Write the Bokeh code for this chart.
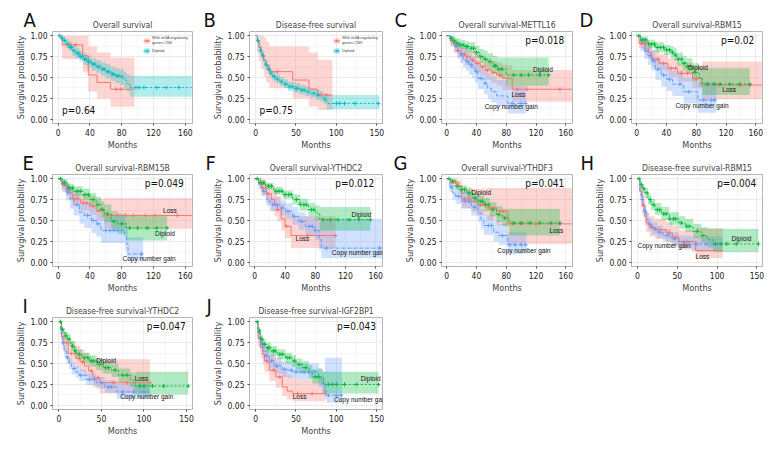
import numpy as np
from bokeh.plotting import figure
from bokeh.layouts import gridplot
from bokeh.models import Label, Legend, LegendItem, FixedTicker, Range1d, NumeralTickFormatter
from bokeh.embed import file_html
from bokeh.resources import INLINE

# ---------------- data ----------------
OS_TICKS = [0, 40, 80, 120, 160]
DFS_TICKS = [0, 50, 100, 150]
Y_TICKS = [0, 0.25, 0.5, 0.75, 1.0]

# A  Overall survival
A_cnv_t = [0, 5, 31, 38, 49, 66, 96]
A_cnv_s = [1, 0.89, 0.76, 0.53, 0.44, 0.36, 0.36]
A_cnv_lo = [1, 0.72, 0.57, 0.33, 0.25, 0.15, 0.15]
A_cnv_hi = [1, 1, 1, 0.87, 0.80, 0.74, 0.74]
A_cnv_c = [15, 22, 73, 79]
A_dip_t = [0, 3, 6, 10, 14, 18, 22, 27, 32, 36, 42, 48, 54, 60, 66, 72, 78, 83, 86, 90, 168]
A_dip_s = [1, 0.97, 0.94, 0.9, 0.86, 0.82, 0.79, 0.75, 0.72, 0.69, 0.66, 0.63, 0.6, 0.57, 0.54, 0.52, 0.51, 0.47, 0.43, 0.38, 0.38]
A_dip_lo = [1, 0.94, 0.9, 0.85, 0.81, 0.76, 0.73, 0.69, 0.65, 0.62, 0.58, 0.55, 0.52, 0.49, 0.46, 0.43, 0.41, 0.37, 0.33, 0.27, 0.27]
A_dip_hi = [1, 1, 0.99, 0.96, 0.93, 0.89, 0.86, 0.82, 0.79, 0.76, 0.73, 0.71, 0.68, 0.66, 0.63, 0.61, 0.6, 0.57, 0.54, 0.52, 0.52]
A_dip_c = [2, 5, 8, 12, 15, 17, 20, 24, 26, 28, 30, 33, 35, 38, 40, 44, 46, 50, 52, 56, 58, 62, 64, 68, 70, 74, 76, 80, 98, 102, 108, 124, 136, 152]

# B  Disease-free survival
B_cnv_t = [0, 2, 4, 7, 10, 13, 17, 46, 66, 77, 95]
B_cnv_s = [1, 0.93, 0.86, 0.79, 0.71, 0.64, 0.57, 0.47, 0.36, 0.29, 0.29]
B_cnv_lo = [1, 0.8, 0.69, 0.6, 0.51, 0.44, 0.37, 0.25, 0.15, 0.11, 0.11]
B_cnv_hi = [1, 1, 1, 1, 0.98, 0.93, 0.87, 0.87, 0.8, 0.71, 0.71]
B_cnv_c = [27, 80, 88]
B_dip_t = [0, 2, 4, 6, 8, 10, 12, 15, 18, 21, 25, 30, 35, 40, 48, 55, 62, 68, 75, 80, 84, 88, 153]
B_dip_s = [1, 0.94, 0.88, 0.82, 0.76, 0.7, 0.65, 0.6, 0.55, 0.51, 0.48, 0.45, 0.42, 0.39, 0.37, 0.35, 0.33, 0.31, 0.29, 0.27, 0.24, 0.19, 0.19]
B_dip_lo = [1, 0.9, 0.83, 0.77, 0.71, 0.65, 0.6, 0.55, 0.5, 0.46, 0.43, 0.4, 0.37, 0.34, 0.32, 0.3, 0.28, 0.26, 0.23, 0.21, 0.18, 0.12, 0.12]
B_dip_hi = [1, 0.98, 0.93, 0.87, 0.82, 0.76, 0.71, 0.66, 0.61, 0.57, 0.54, 0.51, 0.48, 0.45, 0.43, 0.41, 0.39, 0.37, 0.35, 0.34, 0.31, 0.29, 0.29]
B_dip_c = [3, 6, 9, 13, 16, 19, 23, 27, 32, 37, 42, 45, 50, 52, 57, 60, 65, 72, 77, 86, 100, 104, 110, 123, 152]

# C  Overall survival-METTL16
C_dip_t = [0, 4, 8, 12, 18, 25, 30, 38, 44, 50, 55, 62, 68, 80, 137]
C_dip_s = [1, 0.97, 0.94, 0.91, 0.89, 0.87, 0.85, 0.8, 0.75, 0.72, 0.69, 0.64, 0.6, 0.53, 0.53]
C_dip_lo = [1, 0.94, 0.9, 0.86, 0.84, 0.81, 0.79, 0.73, 0.67, 0.63, 0.6, 0.54, 0.5, 0.4, 0.4]
C_dip_hi = [1, 1, 0.99, 0.97, 0.95, 0.93, 0.92, 0.88, 0.84, 0.82, 0.79, 0.76, 0.74, 0.74, 0.74]
C_dip_c = [6, 10, 14, 18, 22, 26, 28, 33, 36, 40, 46, 52, 58, 64, 66, 70, 74, 90, 100, 110, 125, 137]
C_loss_t = [0, 5, 10, 15, 20, 25, 32, 38, 45, 52, 60, 67, 75, 88, 168]
C_loss_s = [1, 0.93, 0.87, 0.82, 0.78, 0.75, 0.71, 0.67, 0.63, 0.59, 0.56, 0.53, 0.49, 0.36, 0.36]
C_loss_lo = [1, 0.88, 0.8, 0.74, 0.69, 0.65, 0.61, 0.56, 0.52, 0.47, 0.43, 0.4, 0.35, 0.21, 0.21]
C_loss_hi = [1, 0.98, 0.94, 0.9, 0.87, 0.85, 0.82, 0.79, 0.76, 0.73, 0.7, 0.68, 0.65, 0.59, 0.59]
C_loss_c = [8, 15, 20, 24, 28, 35, 42, 48, 55, 62, 72, 95, 108, 152]
C_cng_t = [0, 5, 10, 14, 18, 22, 26, 30, 34, 38, 42, 50, 55, 60, 67, 82, 107]
C_cng_s = [1, 0.94, 0.88, 0.82, 0.77, 0.73, 0.69, 0.65, 0.61, 0.57, 0.49, 0.43, 0.37, 0.33, 0.28, 0.19, 0.19]
C_cng_lo = [1, 0.88, 0.8, 0.73, 0.67, 0.62, 0.58, 0.53, 0.49, 0.44, 0.36, 0.3, 0.24, 0.2, 0.15, 0.07, 0.07]
C_cng_hi = [1, 1, 0.96, 0.92, 0.88, 0.85, 0.82, 0.78, 0.75, 0.71, 0.65, 0.6, 0.55, 0.51, 0.47, 0.4, 0.4]
C_cng_c = [12, 20, 28, 33, 40, 46, 52, 88, 100, 106]

# D  Overall survival-RBM15
D_dip_t = [0, 5, 15, 25, 37, 46, 50, 54, 62, 67, 75, 84, 88, 152]
D_dip_s = [1, 0.95, 0.9, 0.86, 0.83, 0.8, 0.77, 0.72, 0.67, 0.63, 0.56, 0.5, 0.42, 0.42]
D_dip_lo = [1, 0.91, 0.85, 0.8, 0.77, 0.73, 0.7, 0.64, 0.58, 0.54, 0.46, 0.39, 0.29, 0.29]
D_dip_hi = [1, 0.99, 0.95, 0.92, 0.89, 0.87, 0.85, 0.8, 0.76, 0.73, 0.67, 0.62, 0.61, 0.61]
D_dip_c = [3, 8, 12, 16, 20, 24, 28, 32, 36, 40, 44, 48, 52, 56, 60, 64, 68, 72, 78, 95, 104, 112, 125, 138, 152]
D_loss_t = [0, 3, 12, 16, 20, 30, 42, 55, 75, 88, 168]
D_loss_s = [1, 0.91, 0.85, 0.8, 0.72, 0.67, 0.61, 0.55, 0.49, 0.41, 0.41]
D_loss_lo = [1, 0.85, 0.77, 0.72, 0.63, 0.58, 0.51, 0.45, 0.37, 0.24, 0.24]
D_loss_hi = [1, 0.97, 0.93, 0.89, 0.83, 0.78, 0.73, 0.68, 0.64, 0.69, 0.69]
D_loss_c = [6, 10, 22, 28, 36, 46, 52, 60, 68, 80, 95, 110, 140, 152]
D_cng_t = [0, 5, 10, 15, 20, 25, 33, 40, 48, 63, 82, 107]
D_cng_s = [1, 0.9, 0.82, 0.76, 0.7, 0.6, 0.53, 0.48, 0.42, 0.33, 0.23, 0.23]
D_cng_lo = [1, 0.82, 0.72, 0.65, 0.58, 0.47, 0.39, 0.34, 0.28, 0.19, 0.08, 0.08]
D_cng_hi = [1, 0.98, 0.93, 0.88, 0.83, 0.74, 0.68, 0.63, 0.58, 0.5, 0.45, 0.45]
D_cng_c = [12, 18, 22, 28, 36, 44, 58, 70, 90, 100, 105]

# E  Overall survival-RBM15B
E_loss_t = [0, 4, 10, 14, 18, 28, 40, 48, 58, 168]
E_loss_s = [1, 0.93, 0.88, 0.83, 0.76, 0.71, 0.67, 0.62, 0.56, 0.56]
E_loss_lo = [1, 0.87, 0.8, 0.75, 0.67, 0.62, 0.57, 0.5, 0.4, 0.4]
E_loss_hi = [1, 0.98, 0.95, 0.91, 0.86, 0.82, 0.79, 0.76, 0.77, 0.77]
E_loss_c = [7, 12, 20, 24, 32, 36, 44, 52, 64, 75, 85, 95, 110, 122, 150]
E_dip_t = [0, 5, 12, 20, 31, 40, 48, 54, 58, 67, 75, 86, 137]
E_dip_s = [1, 0.95, 0.89, 0.85, 0.81, 0.75, 0.69, 0.63, 0.58, 0.49, 0.46, 0.41, 0.41]
E_dip_lo = [1, 0.91, 0.84, 0.79, 0.74, 0.67, 0.6, 0.54, 0.48, 0.38, 0.34, 0.26, 0.26]
E_dip_hi = [1, 0.99, 0.94, 0.91, 0.88, 0.83, 0.78, 0.73, 0.69, 0.61, 0.58, 0.57, 0.57]
E_dip_c = [3, 8, 14, 18, 24, 28, 34, 38, 44, 50, 56, 62, 70, 80, 90, 100, 112, 124, 137]
E_cng_t = [0, 5, 10, 15, 20, 27, 33, 42, 48, 54, 84, 86, 88, 107]
E_cng_s = [1, 0.92, 0.84, 0.76, 0.69, 0.6, 0.56, 0.5, 0.46, 0.38, 0.3, 0.22, 0.1, 0.1]
E_cng_lo = [1, 0.84, 0.74, 0.64, 0.56, 0.46, 0.41, 0.35, 0.31, 0.23, 0.14, 0.07, 0.02, 0.02]
E_cng_hi = [1, 1, 0.94, 0.88, 0.82, 0.75, 0.71, 0.66, 0.62, 0.56, 0.48, 0.4, 0.3, 0.3]
E_cng_c = [12, 24, 37, 44, 50, 60, 65, 70, 75, 80, 105]

# F  Overall survival-YTHDC2
F_dip_t = [0, 5, 14, 25, 37, 50, 60, 71, 80, 86, 153]
F_dip_s = [1, 0.95, 0.91, 0.85, 0.81, 0.75, 0.69, 0.63, 0.59, 0.51, 0.51]
F_dip_lo = [1, 0.92, 0.87, 0.81, 0.76, 0.69, 0.62, 0.55, 0.5, 0.38, 0.38]
F_dip_hi = [1, 0.99, 0.95, 0.9, 0.86, 0.81, 0.76, 0.71, 0.68, 0.66, 0.66]
F_dip_c = [3, 8, 12, 18, 22, 28, 32, 36, 40, 45, 48, 55, 60, 65, 68, 75, 78, 90, 100, 110, 125, 138, 153]
F_loss_t = [0, 8, 15, 22, 26, 30, 35, 40, 48, 107]
F_loss_s = [1, 0.89, 0.82, 0.75, 0.69, 0.63, 0.52, 0.43, 0.32, 0.32]
F_loss_lo = [1, 0.8, 0.71, 0.62, 0.55, 0.49, 0.38, 0.29, 0.17, 0.17]
F_loss_hi = [1, 0.98, 0.94, 0.88, 0.84, 0.79, 0.7, 0.62, 0.55, 0.55]
F_loss_c = [10, 18, 30, 42, 70, 107]
F_cng_t = [0, 5, 10, 16, 20, 33, 41, 50, 58, 67, 80, 85, 88, 168]
F_cng_s = [1, 0.93, 0.85, 0.75, 0.69, 0.65, 0.61, 0.55, 0.49, 0.43, 0.38, 0.27, 0.17, 0.17]
F_cng_lo = [1, 0.88, 0.79, 0.67, 0.61, 0.56, 0.52, 0.45, 0.39, 0.32, 0.27, 0.15, 0.05, 0.05]
F_cng_hi = [1, 0.98, 0.91, 0.83, 0.78, 0.74, 0.71, 0.66, 0.6, 0.55, 0.52, 0.48, 0.52, 0.52]
F_cng_c = [12, 24, 28, 36, 44, 52, 62, 72, 76, 80, 95, 165]

# G  Overall survival-YTHDF3
G_loss_t = [0, 5, 15, 20, 33, 41, 54, 67, 82, 168]
G_loss_s = [1, 0.96, 0.91, 0.76, 0.73, 0.69, 0.65, 0.61, 0.46, 0.46]
G_loss_lo = [1, 0.9, 0.83, 0.65, 0.61, 0.56, 0.5, 0.44, 0.22, 0.22]
G_loss_hi = [1, 1, 0.98, 0.9, 0.88, 0.88, 0.89, 0.89, 0.89, 0.89]
G_loss_c = [8, 12, 24, 30, 46, 50, 58, 64, 72, 76, 88, 100, 120, 152]
G_dip_t = [0, 5, 12, 18, 27, 35, 42, 50, 58, 67, 75, 84, 152]
G_dip_s = [1, 0.97, 0.91, 0.87, 0.83, 0.77, 0.73, 0.69, 0.63, 0.57, 0.53, 0.47, 0.47]
G_dip_lo = [1, 0.94, 0.87, 0.82, 0.77, 0.71, 0.66, 0.61, 0.55, 0.48, 0.43, 0.32, 0.32]
G_dip_hi = [1, 1, 0.95, 0.92, 0.88, 0.83, 0.8, 0.77, 0.72, 0.67, 0.64, 0.64, 0.64]
G_dip_c = [3, 8, 14, 20, 24, 30, 38, 45, 48, 52, 56, 62, 70, 78, 90, 100, 112, 125, 140, 152]
G_cng_t = [0, 4, 8, 12, 20, 33, 42, 46, 50, 63, 70, 82, 107]
G_cng_s = [1, 0.9, 0.83, 0.79, 0.73, 0.66, 0.59, 0.51, 0.44, 0.36, 0.32, 0.21, 0.21]
G_cng_lo = [1, 0.84, 0.75, 0.7, 0.64, 0.56, 0.48, 0.4, 0.33, 0.25, 0.21, 0.1, 0.1]
G_cng_hi = [1, 0.97, 0.92, 0.89, 0.84, 0.77, 0.71, 0.64, 0.57, 0.5, 0.46, 0.36, 0.36]
G_cng_c = [6, 16, 25, 30, 38, 56, 60, 75, 85, 92, 100, 106]

# H  Disease-free survival-RBM15
H_dip_t = [0, 3, 6, 9, 13, 17, 22, 30, 40, 52, 60, 70, 80, 88, 95, 152]
H_dip_s = [1, 0.93, 0.88, 0.83, 0.75, 0.69, 0.63, 0.58, 0.52, 0.47, 0.43, 0.37, 0.32, 0.27, 0.22, 0.22]
H_dip_lo = [1, 0.89, 0.83, 0.77, 0.69, 0.63, 0.57, 0.51, 0.45, 0.4, 0.36, 0.29, 0.24, 0.18, 0.12, 0.12]
H_dip_hi = [1, 0.97, 0.93, 0.89, 0.82, 0.76, 0.71, 0.66, 0.6, 0.55, 0.52, 0.46, 0.42, 0.4, 0.4, 0.4]
H_dip_c = [2, 5, 8, 12, 16, 20, 25, 28, 33, 36, 40, 45, 48, 55, 62, 65, 75, 82, 98, 105, 112, 124, 152]
H_loss_t = [0, 3, 6, 9, 11, 15, 22, 36, 44, 52, 73, 107]
H_loss_s = [1, 0.85, 0.68, 0.55, 0.47, 0.42, 0.39, 0.35, 0.3, 0.25, 0.14, 0.14]
H_loss_lo = [1, 0.76, 0.57, 0.44, 0.36, 0.31, 0.28, 0.24, 0.19, 0.15, 0.05, 0.05]
H_loss_hi = [1, 0.94, 0.8, 0.68, 0.6, 0.55, 0.52, 0.48, 0.44, 0.38, 0.41, 0.41]
H_loss_c = [7, 18, 28, 40, 48, 62]
H_cng_t = [0, 3, 5, 8, 11, 14, 18, 25, 32, 42, 52, 68, 107]
H_cng_s = [1, 0.85, 0.75, 0.61, 0.51, 0.45, 0.4, 0.36, 0.32, 0.28, 0.24, 0.22, 0.22]
H_cng_lo = [1, 0.79, 0.68, 0.54, 0.44, 0.38, 0.33, 0.29, 0.25, 0.21, 0.17, 0.13, 0.13]
H_cng_hi = [1, 0.91, 0.82, 0.69, 0.59, 0.53, 0.48, 0.44, 0.4, 0.36, 0.32, 0.31, 0.31]
H_cng_c = [6, 10, 16, 22, 28, 38, 46, 58, 74, 86, 95, 104]

# I  Disease-free survival-YTHDC2
I_dip_t = [0, 3, 5, 7, 10, 14, 18, 21, 27, 36, 44, 52, 62, 70, 84, 88, 90, 152]
I_dip_s = [1, 0.91, 0.87, 0.83, 0.79, 0.71, 0.65, 0.61, 0.57, 0.53, 0.49, 0.45, 0.42, 0.36, 0.3, 0.27, 0.23, 0.23]
I_dip_lo = [1, 0.87, 0.82, 0.78, 0.73, 0.65, 0.59, 0.55, 0.5, 0.46, 0.42, 0.38, 0.34, 0.28, 0.22, 0.18, 0.13, 0.13]
I_dip_hi = [1, 0.95, 0.92, 0.88, 0.85, 0.77, 0.71, 0.67, 0.63, 0.6, 0.56, 0.52, 0.5, 0.44, 0.39, 0.38, 0.4, 0.4]
I_dip_c = [2, 4, 8, 12, 16, 19, 24, 30, 34, 38, 41, 48, 55, 58, 66, 75, 80, 95, 100, 110, 123, 152]
I_loss_t = [0, 3, 6, 11, 20, 25, 30, 35, 40, 48, 107]
I_loss_s = [1, 0.82, 0.75, 0.62, 0.56, 0.52, 0.47, 0.41, 0.33, 0.27, 0.27]
I_loss_lo = [1, 0.72, 0.64, 0.5, 0.44, 0.4, 0.35, 0.29, 0.22, 0.14, 0.14]
I_loss_hi = [1, 0.92, 0.87, 0.77, 0.71, 0.67, 0.63, 0.58, 0.55, 0.55, 0.55]
I_loss_c = [9, 15, 24, 28, 38, 46, 64, 80, 107]
I_cng_t = [0, 2, 4, 6, 9, 12, 15, 20, 24, 32, 44, 54, 68, 107]
I_cng_s = [1, 0.87, 0.75, 0.65, 0.57, 0.5, 0.44, 0.4, 0.36, 0.31, 0.27, 0.22, 0.16, 0.16]
I_cng_lo = [1, 0.81, 0.69, 0.58, 0.5, 0.43, 0.37, 0.33, 0.29, 0.24, 0.2, 0.15, 0.08, 0.08]
I_cng_hi = [1, 0.93, 0.82, 0.72, 0.64, 0.57, 0.51, 0.47, 0.43, 0.38, 0.34, 0.3, 0.26, 0.26]
I_cng_c = [5, 10, 18, 26, 36, 42, 50, 58, 62, 75, 88, 100]

# J  Disease-free survival-IGF2BP1
J_dip_t = [0, 3, 6, 9, 13, 19, 27, 37, 45, 50, 58, 66, 70, 84, 152]
J_dip_s = [1, 0.89, 0.79, 0.73, 0.69, 0.65, 0.61, 0.57, 0.53, 0.49, 0.45, 0.4, 0.34, 0.25, 0.25]
J_dip_lo = [1, 0.85, 0.74, 0.68, 0.63, 0.59, 0.55, 0.5, 0.46, 0.42, 0.38, 0.32, 0.26, 0.14, 0.14]
J_dip_hi = [1, 0.93, 0.84, 0.79, 0.75, 0.71, 0.67, 0.63, 0.6, 0.56, 0.53, 0.48, 0.43, 0.4, 0.4]
J_dip_c = [2, 5, 8, 11, 15, 17, 22, 24, 30, 33, 39, 42, 48, 54, 62, 74, 78, 90, 95, 100, 110, 125, 152]
J_loss_t = [0, 3, 6, 9, 11, 17, 25, 33, 39, 46, 86]
J_loss_s = [1, 0.8, 0.69, 0.61, 0.53, 0.42, 0.34, 0.22, 0.17, 0.14, 0.14]
J_loss_lo = [1, 0.7, 0.57, 0.48, 0.4, 0.29, 0.21, 0.11, 0.07, 0.05, 0.05]
J_loss_hi = [1, 0.91, 0.82, 0.76, 0.69, 0.6, 0.52, 0.42, 0.36, 0.31, 0.31]
J_loss_c = [14, 22, 30, 52, 70, 86]
J_cng_t = [0, 3, 5, 7, 9, 12, 17, 23, 33, 40, 46, 78, 82, 86, 88, 107]
J_cng_s = [1, 0.87, 0.79, 0.73, 0.65, 0.59, 0.53, 0.47, 0.43, 0.42, 0.4, 0.32, 0.24, 0.17, 0.12, 0.12]
J_cng_lo = [1, 0.8, 0.71, 0.64, 0.56, 0.5, 0.44, 0.38, 0.34, 0.33, 0.31, 0.22, 0.14, 0.07, 0.03, 0.03]
J_cng_hi = [1, 0.94, 0.87, 0.82, 0.75, 0.69, 0.63, 0.57, 0.53, 0.52, 0.5, 0.45, 0.4, 0.57, 0.57, 0.57]
J_cng_c = [8, 14, 20, 26, 36, 44, 50, 56, 60, 66, 72, 90, 100, 106]

# ---------------- styling ----------------
RED, GREEN, BLUE, TEAL = "#F8766D", "#00BA38", "#619CFF", "#00BFC4"
NARROW = "'DejaVu Sans Condensed', Roboto, sans-serif"
SANS = "Liberation Sans"


def make_fig(letter, title, dfs, col, row, letter_x):
    left = 52 if col == 0 else 44
    top = 31 if row == 0 else 22
    w = 198 if col == 0 else 190
    xr = Range1d(-7.5, 157) if dfs else Range1d(-7, 169)
    p = figure(width=w, frame_height=92, x_range=xr, y_range=Range1d(-0.05, 1.05),
               output_backend="svg", toolbar_location=None, title=title,
               min_border_left=left, min_border_right=6, min_border_top=top, min_border_bottom=25)
    p.title.text_font = NARROW
    p.title.text_font_size = "8.5px"
    p.title.text_font_style = "normal"
    p.title.align = "center"
    p.title.standoff = 4
    p.outline_line_color = "#b3b3b3"
    p.outline_line_width = 1
    ticks = DFS_TICKS if dfs else OS_TICKS
    minors = [25, 75, 125] if dfs else [20, 60, 100, 140]
    p.xaxis.ticker = FixedTicker(ticks=ticks, minor_ticks=minors)
    p.yaxis.ticker = FixedTicker(ticks=Y_TICKS, minor_ticks=[0.125, 0.375, 0.625, 0.875])
    p.yaxis.formatter = NumeralTickFormatter(format="0.00")
    for ax in (p.xaxis, p.yaxis):
        ax.axis_line_color = None
        ax.major_tick_line_color = "#444444"
        ax.major_tick_out = 2
        ax.major_tick_in = 0
        ax.minor_tick_line_color = None
        ax.major_label_text_font = NARROW
        ax.major_label_text_font_size = "8.5px"
        ax.major_label_text_color = "#1a1a1a"
        ax.major_label_standoff = 1
        ax.axis_label_text_font = NARROW
        ax.axis_label_text_font_size = "9px"
        ax.axis_label_text_font_style = "normal"
        ax.axis_label_standoff = 1
    p.xaxis.axis_label = "Months"
    p.yaxis.axis_label = "Survgival probability"
    p.xgrid.grid_line_color = "#ebebeb"
    p.ygrid.grid_line_color = "#ebebeb"
    p.xgrid.minor_grid_line_color = "#f5f5f5"
    p.ygrid.minor_grid_line_color = "#f5f5f5"
    # panel letter, placed in the left side panel so it is not clipped by the frame
    p.add_layout(Label(x=letter_x, y=1.04, x_units="screen", y_units="data", text=letter,
                       text_font=NARROW, text_font_size="20px", text_baseline="bottom",
                       text_color="#111111"), "left")
    return p


def add_curves(p, curves):
    out = []
    for (t, s, lo, hi, c, color, dash) in curves:
        out.append([p.varea_step(x=t, y1=lo, y2=hi, step_mode="after",
                                 fill_color=color, fill_alpha=0.3)])
    for i, (t, s, lo, hi, c, color, dash) in enumerate(curves):
        out[i].append(p.step(x=t, y=s, mode="after", line_color=color, line_width=1,
                             line_dash=dash))
    for i, (t, s, lo, hi, c, color, dash) in enumerate(curves):
        idx = np.searchsorted(np.array(t), np.array(c), side="right") - 1
        cy = np.array(s)[idx]
        out[i].append(p.scatter(x=c, y=cy, marker="cross", size=4, line_color=color,
                                line_width=1))
    return out


def txt(p, x, y, text, size="6.5px", font=SANS, align="left"):
    p.add_layout(Label(x=x, y=y, text=text, text_font=font, text_font_size=size,
                       text_baseline="middle", text_align=align, text_color="#111111"))


def pval(p, text, dfs):
    txt(p, 149 if dfs else 158, 0.94, text, size="10px", font=NARROW, align="right")


# ---- A, B ----
def ab_panel(letter, title, dfs, cnv, dip, ptext, col, lx):
    p = make_fig(letter, title, dfs, col, 0, lx)
    rs = add_curves(p, [cnv + (RED, "solid"), dip + (TEAL, "2 2")])
    leg = Legend(items=[LegendItem(label="With m6A regulatory\ngenes CNV", renderers=rs[0]),
                        LegendItem(label="Diploid", renderers=rs[1])],
                 location="top_right", label_text_font=SANS, label_text_font_size="4px",
                 glyph_width=7, glyph_height=7, label_standoff=2, padding=1, margin=4,
                 spacing=2, border_line_color=None, background_fill_alpha=0,
                 label_height=7)
    p.add_layout(leg)
    txt(p, 5, 0.11, ptext, size="10px", font=NARROW)
    return p


pA = ab_panel("A", "Overall survival", False,
              (A_cnv_t, A_cnv_s, A_cnv_lo, A_cnv_hi, A_cnv_c),
              (A_dip_t, A_dip_s, A_dip_lo, A_dip_hi, A_dip_c), "p=0.64", 0, 22)
pB = ab_panel("B", "Disease-free survival", True,
              (B_cnv_t, B_cnv_s, B_cnv_lo, B_cnv_hi, B_cnv_c),
              (B_dip_t, B_dip_s, B_dip_lo, B_dip_hi, B_dip_c), "p=0.75", 1, 5)


def three_panel(letter, title, dfs, dip, loss, cng, ptext, lab, col, row, lx):
    p = make_fig(letter, title, dfs, col, row, lx)
    add_curves(p, [loss + (RED, "solid"), cng + (BLUE, "4 2"), dip + (GREEN, "2 2")])
    pval(p, ptext, dfs)
    for (x, y, t) in lab:
        txt(p, x, y, t)
    return p


pC = three_panel("C", "Overall survival-METTL16", False,
                 (C_dip_t, C_dip_s, C_dip_lo, C_dip_hi, C_dip_c),
                 (C_loss_t, C_loss_s, C_loss_lo, C_loss_hi, C_loss_c),
                 (C_cng_t, C_cng_s, C_cng_lo, C_cng_hi, C_cng_c), "p=0.018",
                 [(116, 0.59, "Diploid"), (87, 0.30, "Loss"), (51, 0.15, "Copy number gain")], 2, 0, 5)
pD = three_panel("D", "Overall survival-RBM15", False,
                 (D_dip_t, D_dip_s, D_dip_lo, D_dip_hi, D_dip_c),
                 (D_loss_t, D_loss_s, D_loss_lo, D_loss_hi, D_loss_c),
                 (D_cng_t, D_cng_s, D_cng_lo, D_cng_hi, D_cng_c), "p=0.02",
                 [(69, 0.62, "Diploid"), (115, 0.36, "Loss"), (52, 0.17, "Copy number gain")], 3, 0, 1)
pE = three_panel("E", "Overall survival-RBM15B", False,
                 (E_dip_t, E_dip_s, E_dip_lo, E_dip_hi, E_dip_c),
                 (E_loss_t, E_loss_s, E_loss_lo, E_loss_hi, E_loss_c),
                 (E_cng_t, E_cng_s, E_cng_lo, E_cng_hi, E_cng_c), "p=0.049",
                 [(132, 0.615, "Loss"), (122, 0.345, "Diploid"), (81, 0.05, "Copy number gain")], 0, 1, 20)
pF = three_panel("F", "Overall survival-YTHDC2", False,
                 (F_dip_t, F_dip_s, F_dip_lo, F_dip_hi, F_dip_c),
                 (F_loss_t, F_loss_s, F_loss_lo, F_loss_hi, F_loss_c),
                 (F_cng_t, F_cng_s, F_cng_lo, F_cng_hi, F_cng_c), "p=0.012",
                 [(128, 0.57, "Diploid"), (54, 0.28, "Loss"), (102, 0.12, "Copy number gain")], 1, 1, 5)
pG = three_panel("G", "Overall survival-YTHDF3", False,
                 (G_dip_t, G_dip_s, G_dip_lo, G_dip_hi, G_dip_c),
                 (G_loss_t, G_loss_s, G_loss_lo, G_loss_hi, G_loss_c),
                 (G_cng_t, G_cng_s, G_cng_lo, G_cng_hi, G_cng_c), "p=0.041",
                 [(33, 0.84, "Diploid"), (138, 0.38, "Loss"), (68, 0.14, "Copy number gain")], 2, 1, 5)
pH = three_panel("H", "Disease-free survival-RBM15", True,
                 (H_dip_t, H_dip_s, H_dip_lo, H_dip_hi, H_dip_c),
                 (H_loss_t, H_loss_s, H_loss_lo, H_loss_hi, H_loss_c),
                 (H_cng_t, H_cng_s, H_cng_lo, H_cng_hi, H_cng_c), "p=0.004",
                 [(118, 0.28, "Diploid"), (73, 0.07, "Loss"), (0, 0.2, "Copy number gain")], 3, 1, 2)
pI = three_panel("I", "Disease-free survival-YTHDC2", True,
                 (I_dip_t, I_dip_s, I_dip_lo, I_dip_hi, I_dip_c),
                 (I_loss_t, I_loss_s, I_loss_lo, I_loss_hi, I_loss_c),
                 (I_cng_t, I_cng_s, I_cng_lo, I_cng_hi, I_cng_c), "p=0.047",
                 [(44, 0.53, "Diploid"), (89, 0.32, "Loss"), (72, 0.11, "Copy number gain")], 0, 2, 14)
pJ = three_panel("J", "Disease-free survival-IGF2BP1", True,
                 (J_dip_t, J_dip_s, J_dip_lo, J_dip_hi, J_dip_c),
                 (J_loss_t, J_loss_s, J_loss_lo, J_loss_hi, J_loss_c),
                 (J_cng_t, J_cng_s, J_cng_lo, J_cng_hi, J_cng_c), "p=0.043",
                 [(130, 0.32, "Diploid"), (46, 0.10, "Loss"), (97, 0.07, "Copy number gain")], 1, 2, 1)

grid = gridplot([[pA, pB, pC, pD], [pE, pF, pG, pH], [pI, pJ, None, None]],
                toolbar_location=None)

open("out.html", "w").write(file_html(grid, INLINE))
